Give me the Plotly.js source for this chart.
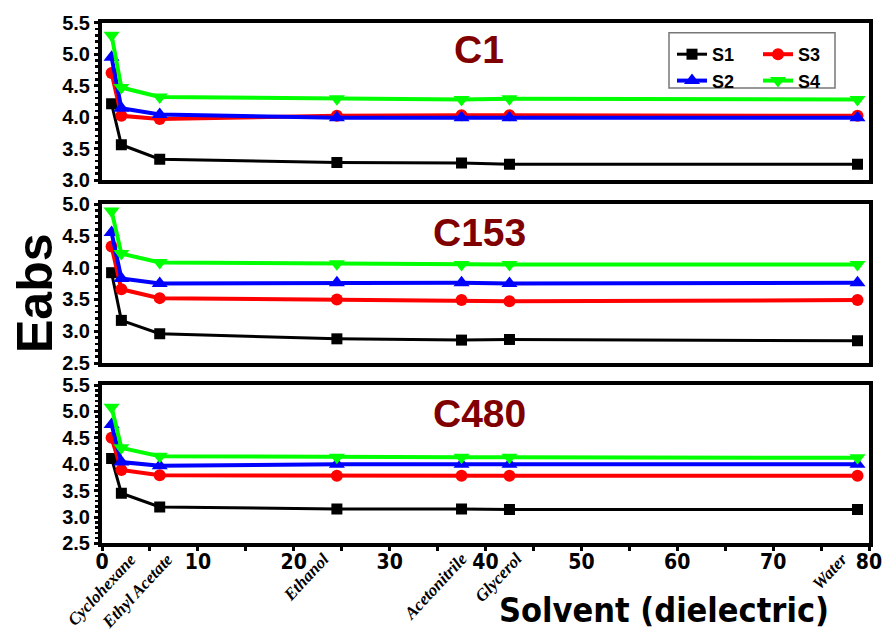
<!DOCTYPE html>
<html>
<head>
<meta charset="utf-8">
<script src="https://cdn.plot.ly/plotly-3.0.1.min.js"></script>
<style>html,body{margin:0;padding:0;background:#fff;} #chart{width:886px;height:635px;}</style>
</head>
<body>
<div id="chart"></div>
<script>
// ---- data ----
const dielectric = [1, 2.02, 6.02, 24.5, 37.5, 42.5, 78.8];
const solventNames = ['', 'Cyclohexane', 'Ethyl Acetate', 'Ethanol', 'Acetonitrile', 'Glycerol', 'Water'];
const seriesNames = ['S1', 'S2', 'S3', 'S4'];
const panelNames = ['C1', 'C153', 'C480'];

const c1_S1 = [4.21, 3.56, 3.33, 3.28, 3.27, 3.25, 3.25];
const c1_S2 = [4.95, 4.14, 4.04, 3.99, 3.99, 3.99, 3.99];
const c1_S3 = [4.70, 4.02, 3.97, 4.02, 4.03, 4.03, 4.02];
const c1_S4 = [5.30, 4.47, 4.32, 4.29, 4.28, 4.29, 4.28];

const c153_S1 = [3.92, 3.17, 2.96, 2.88, 2.86, 2.87, 2.85];
const c153_S2 = [4.55, 3.83, 3.75, 3.76, 3.76, 3.75, 3.76];
const c153_S3 = [4.33, 3.66, 3.52, 3.50, 3.49, 3.47, 3.49];
const c153_S4 = [4.89, 4.22, 4.08, 4.06, 4.05, 4.05, 4.05];

const c480_S1 = [4.11, 3.45, 3.19, 3.15, 3.15, 3.14, 3.14];
const c480_S2 = [4.75, 4.04, 3.97, 4.00, 4.00, 4.00, 4.00];
const c480_S3 = [4.50, 3.89, 3.79, 3.78, 3.78, 3.78, 3.78];
const c480_S4 = [5.08, 4.31, 4.15, 4.13, 4.13, 4.13, 4.12];

const yRanges = [[3.0, 5.5], [2.5, 5.0], [2.5, 5.5]];

// ---- styles ----
const W = 886, H = 635, ML = 102, MR = 17;
const colors = ['#000000', '#0000ff', '#ff0000', '#00ff00'];
const symbols = ['square', 'triangle-up', 'circle', 'triangle-down'];
const msizes = [11, 14, 12, 14];
const lwidths = [3, 4, 4, 4];
const legendOf = ['legend', 'legend', 'legend2', 'legend2'];
const drawOrder = [0, 2, 1, 3];
const panelData = [
  [c1_S1, c1_S2, c1_S3, c1_S4],
  [c153_S1, c153_S2, c153_S3, c153_S4],
  [c480_S1, c480_S2, c480_S3, c480_S4]
];
const py = px => 1 - px / H;               // paper y from pixel
const pxX = px => (px - ML) / (W - ML - MR); // paper x from pixel

const traces = [];
panelData.forEach((series, p) => {
  drawOrder.forEach(i => {
    traces.push({
      x: dielectric, y: series[i], name: seriesNames[i],
      type: 'scatter', mode: 'lines+markers',
      xaxis: p === 0 ? 'x' : 'x' + (p + 1),
      yaxis: p === 0 ? 'y' : 'y' + (p + 1),
      line: {color: colors[i], width: lwidths[i]},
      marker: {color: colors[i], symbol: symbols[i], size: msizes[i]},
      showlegend: p === 0, legend: legendOf[i],
      hoverinfo: 'skip'
    });
  });
});

const domains = [[py(180), py(22.7)], [py(363), py(204)], [py(543.4), py(385)]];
const tickFontY = {family: 'Liberation Sans, Arial, sans-serif', size: 20, color: '#000', weight: 'bold'};
const narrow = 'Liberation Sans Narrow, Arial Narrow, DejaVu Sans Condensed, Liberation Sans, sans-serif';
const legFont = {family: 'Liberation Sans, Arial, sans-serif', size: 18, color: '#000', weight: 'bold'};

const layout = {
  width: W, height: H,
  margin: {l: ML, r: MR, t: 0, b: 0},
  paper_bgcolor: '#fff', plot_bgcolor: '#fff',
  showlegend: true,
  legend: {x: pxX(672), y: py(36), xanchor: 'left', yanchor: 'top', bgcolor: 'rgba(0,0,0,0)',
           font: legFont, tracegroupgap: 0, itemwidth: 30},
  legend2: {x: pxX(758), y: py(36), xanchor: 'left', yanchor: 'top', bgcolor: 'rgba(0,0,0,0)',
           font: legFont, tracegroupgap: 0, itemwidth: 30},
  shapes: [{type: 'rect', xref: 'paper', yref: 'paper', x0: pxX(669), x1: pxX(835), y0: py(88), y1: py(32.7),
            line: {color: '#777', width: 1.5}, fillcolor: 'rgba(0,0,0,0)'}],
  annotations: []
};

for (let p = 0; p < 3; p++) {
  const xs = p === 0 ? 'xaxis' : 'xaxis' + (p + 1);
  const ys = p === 0 ? 'yaxis' : 'yaxis' + (p + 1);
  const yid = p === 0 ? 'y' : 'y' + (p + 1);
  const xid = p === 0 ? 'x' : 'x' + (p + 1);
  const bottom = p === 2;
  layout[xs] = {
    domain: [0, 1], anchor: yid, range: [0, 80],
    showline: true, linecolor: '#000', linewidth: 4, mirror: true,
    showgrid: false, zeroline: false,
    ticks: bottom ? 'outside' : '', ticklen: 4, tickwidth: 3, tickcolor: '#000',
    dtick: 10, tick0: 0,
    showticklabels: bottom, ticklabelstandoff: -8,
    tickfont: {family: narrow, size: 21, color: '#000', weight: 'bold'},
    minor: bottom ? {dtick: 5, ticks: 'outside', ticklen: 4, tickwidth: 3, tickcolor: '#000'} : undefined
  };
  layout[ys] = {
    domain: domains[p], anchor: xid, range: yRanges[p],
    showline: true, linecolor: '#000', linewidth: 4, mirror: true,
    showgrid: false, zeroline: false,
    ticks: 'outside', ticklen: 4, tickwidth: 3, tickcolor: '#000',
    dtick: 0.5, tick0: 0, tickformat: '.1f',
    tickfont: tickFontY,
    minor: {dtick: 0.1, ticks: 'outside', ticklen: 3, tickwidth: 2.5, tickcolor: '#000'}
  };
}

// panel labels
const panelLabelY = [49, 233, 413];
panelNames.forEach((n, p) => {
  layout.annotations.push({
    text: n, xref: 'paper', yref: 'paper', x: pxX(479), y: py(panelLabelY[p]),
    xanchor: 'center', yanchor: 'middle', showarrow: false,
    font: {family: 'Liberation Sans, Arial, sans-serif', size: 39, color: '#800000', weight: 'bold'}
  });
});

// solvent labels (rotated, italic serif)
const labelShift = [0, 20, 19, -3, 11, 18, -5];
solventNames.forEach((n, i) => {
  if (!n) return;
  layout.annotations.push({
    text: '<b><i>' + n + '</i></b>', xref: 'x3', yref: 'paper', x: dielectric[i], y: py(548), xshift: labelShift[i],
    xanchor: 'right', yanchor: 'top', textangle: -47, showarrow: false, borderpad: 0,
    font: {family: 'Liberation Serif, Times New Roman, serif', size: 17, color: '#000'}
  });
});

// axis titles
layout.annotations.push({
  text: 'Eabs', xref: 'paper', yref: 'paper', x: pxX(35), y: py(293),
  xanchor: 'center', yanchor: 'middle', textangle: -90, showarrow: false,
  font: {family: 'Liberation Sans, Arial, sans-serif', size: 50, color: '#000', weight: 'bold'}
});
layout.annotations.push({
  text: 'Solvent (dielectric)', xref: 'paper', yref: 'paper', x: pxX(664), y: py(610),
  xanchor: 'center', yanchor: 'middle', showarrow: false,
  font: {family: narrow, size: 34, color: '#000', weight: 'bold'}
});

Plotly.newPlot('chart', traces, layout, {staticPlot: true, displayModeBar: false});
</script>
</body>
</html>
